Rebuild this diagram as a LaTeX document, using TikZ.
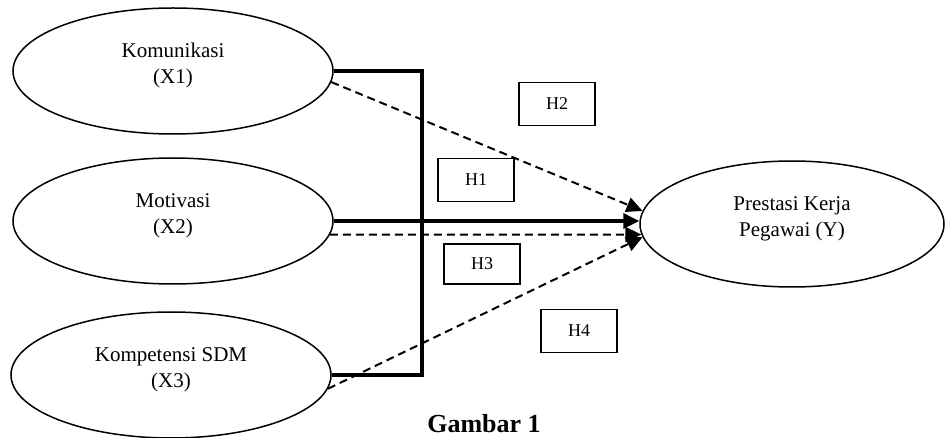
\documentclass[tikz,border=0pt]{standalone}
\usepackage{fontspec}
\setmainfont{Liberation Serif}
\usetikzlibrary{shapes.geometric,arrows.meta}
\tikzset{
    latent-var/.style = {draw, ellipse, line width=1.5pt, minimum width=320pt, minimum height=126pt, inner sep=0pt, text depth=15pt, align=center, font=\fontsize{21}{26}\selectfont},
    hyp-box/.style = {draw, rectangle, line width=1.3pt, minimum width=76pt, minimum height=43pt, inner sep=0pt, font=\fontsize{18}{20}\selectfont},
    solid-link/.style = {line width=3.5pt},
    solid-arrow/.style = {line width=3.5pt, -{Triangle[length=16pt,width=15pt]}},
    dashed-arrow/.style = {line width=2pt, dash pattern=on 8pt off 5pt, -{Triangle[length=16pt,width=15pt]}},
}
\begin{document}
\begin{tikzpicture}[x=1pt,y=-1pt]
\useasboundingbox (0,0) rectangle (948,438);
% variables
\node [latent-var] (x1) at (173,71) {Komunikasi\\(X1)};
\node [latent-var] (x2) at (173,221) {Motivasi\\(X2)};
\node [latent-var] (x3) at (171,375) {Kompetensi SDM\\(X3)};
\node [latent-var, minimum width=304pt] (y) at (792,224) {Prestasi Kerja\\Pegawai (Y)};
% hypotheses
\node [hyp-box] (h1) at (476,180) {H1};
\node [hyp-box] (h2) at (557,104) {H2};
\node [hyp-box, minimum height=40pt] (h3) at (482,264) {H3};
\node [hyp-box] (h4) at (579,331) {H4};
% links
\coordinate (bus) at (422,221);
\draw [solid-link] (x1.east) -| (bus) |- (x3.east);
\draw [solid-arrow] (x2.east) -- (x2.east -| y.west);
\draw [dashed-arrow] (x1.-4) -- (y.175);
\draw [dashed-arrow] (x2.-5) -- (y.184);
\draw [dashed-arrow] (x3.-5) -- (y.185);
\node [font=\bfseries\fontsize{26}{30}\selectfont, anchor=base] (caption) at (484,432) {Gambar 1};
\end{tikzpicture}
\end{document}
